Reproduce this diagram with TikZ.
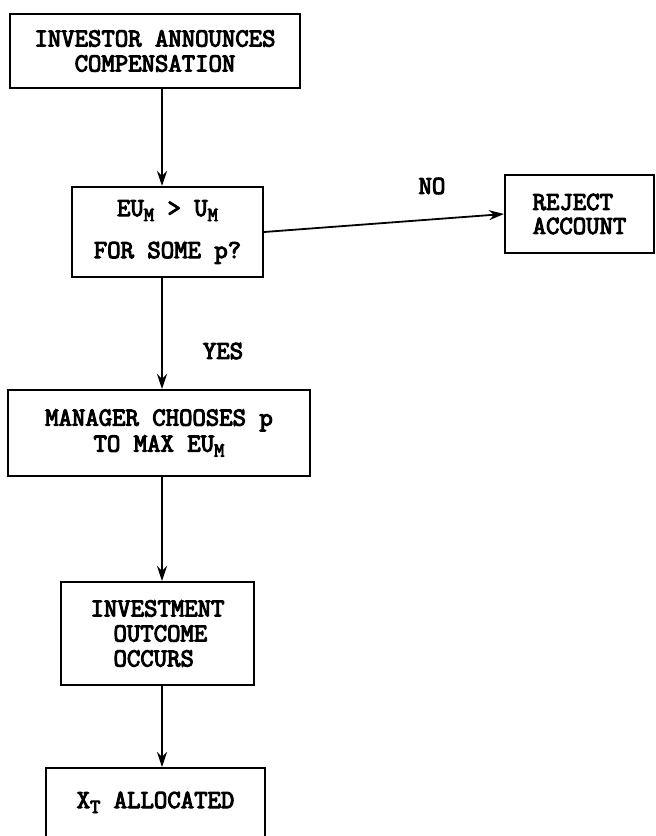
\documentclass[tikz,border=0pt]{standalone}
\usepackage{fontspec}
\setmonofont{Latin Modern Mono}[AutoFakeBold=4]
\usetikzlibrary{arrows.meta}
\newcommand{\sbs}[1]{\raisebox{-5pt}{\fontsize{20pt}{20pt}\selectfont #1}}
\tikzset{
  every node/.style={font=\fontsize{26pt}{25pt}\ttfamily\bfseries, inner sep=0pt},
  fbox/.style={draw, line width=2pt, align=center},
  flow/.style={line width=1.8pt, -{Stealth[length=15pt,width=10pt]}},
  lbl/.style={}
}
\begin{document}
\begin{tikzpicture}[x=1pt,y=-1pt]
\useasboundingbox (0,0) rectangle (656,836);
\clip (0,0) rectangle (656,836);
\coordinate (ax) at (162,0);
\node[fbox, minimum width=290pt, minimum height=74pt] (b1) at (155,51)
  {INVESTOR ANNOUNCES\\COMPENSATION};
\node[fbox, minimum width=191pt, minimum height=90pt,
  font=\fontsize{26pt}{42pt}\ttfamily\bfseries] (b2) at (167.5,232)
  {EU\sbs{M} > U\sbs{M}\\FOR SOME p?};
\node[fbox, minimum width=149pt, minimum height=78pt, align=left,
  font=\fontsize{26pt}{24pt}\ttfamily\bfseries] (rej) at (579.5,214)
  {REJECT\\ACCOUNT};
\node[fbox, minimum width=302pt, minimum height=86pt,
  font=\fontsize{26pt}{26pt}\ttfamily\bfseries] (b3) at (159,433)
  {MANAGER CHOOSES p\\TO MAX EU\sbs{M}};
\node[fbox, minimum width=193pt, minimum height=103pt, align=left,
  font=\fontsize{26pt}{25pt}\ttfamily\bfseries] (b4) at (157.5,633.5)
  {INVESTMENT\\\hspace*{23pt}OUTCOME\\\hspace*{23pt}OCCURS};
\node[fbox, minimum width=219pt, minimum height=150pt] (b5) at (155.5,843)
  {\raisebox{0pt}[0pt][0pt]{\raisebox{35pt}{X\sbs{T} ALLOCATED}}};
\node[lbl] (no) at (432,186) {NO};
\node[lbl] (yes) at (223,351) {YES};
\draw[flow] (b1.south -| ax) -- (b2.north -| ax);
\draw[flow] (b2.south -| ax) -- (b3.north -| ax);
\draw[flow] (b3.south -| ax) -- (b4.north -| ax);
\draw[flow] (b4.south -| ax) -- (b5.north -| ax);
\draw[flow] (b2.east) -- (rej.west);
\end{tikzpicture}
\end{document}
